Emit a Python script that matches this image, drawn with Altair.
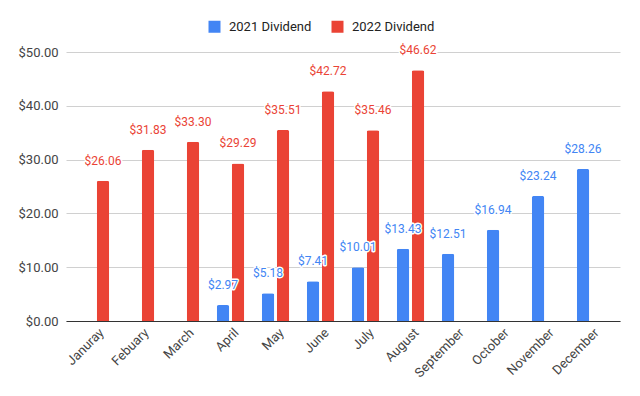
import altair as alt
import pandas as pd

months = ["Januray", "Febuary", "March", "April", "May", "June", "July",
          "August", "September", "October", "November", "December"]
series_names = ["2021 Dividend", "2022 Dividend"]
div2021 = [None, None, None, 2.97, 5.18, 7.41, 10.01, 13.43, 12.51, 16.94, 23.24, 28.26]
div2022 = [26.06, 31.83, 33.30, 29.29, 35.51, 42.72, 35.46, 46.62, None, None, None, None]
colors = ["#4285F4", "#EA4335"]
y_ticks = [0, 10, 20, 30, 40, 50]

rows = []
for m, a, b in zip(months, div2021, div2022):
    if a is not None:
        rows.append({"month": m, "series": series_names[0], "value": a})
    if b is not None:
        rows.append({"month": m, "series": series_names[1], "value": b})
df = pd.DataFrame(rows)

x_enc = alt.X("month:N", sort=months,
              scale=alt.Scale(paddingInner=0.39, paddingOuter=0.35),
              axis=alt.Axis(title=None, labelAngle=-45, labelAlign="right",
                            labelBaseline="top", labelPadding=5, labelOffset=2,
                            labelFontSize=13, labelColor="#444444",
                            domainColor="#333333", ticks=False))
xo_enc = alt.XOffset("series:N", sort=series_names,
                     scale=alt.Scale(paddingInner=0.167, paddingOuter=0))
y_enc = alt.Y("value:Q", scale=alt.Scale(domain=[0, 50]),
              axis=alt.Axis(title=None, values=y_ticks, format="$.2f",
                            domain=False, ticks=False, labelPadding=8,
                            labelFontSize=13, labelColor="#444444",
                            gridColor="#d0d0d0"))
color_enc = alt.Color("series:N",
                      scale=alt.Scale(domain=series_names, range=colors),
                      legend=alt.Legend(orient="none", legendX=142, legendY=-32,
                                        direction="horizontal", title=None,
                                        symbolType="square", symbolSize=144,
                                        symbolStrokeWidth=0, labelFontSize=13,
                                        labelOffset=8, columnPadding=19,
                                        labelColor="#222222"))

base = alt.Chart(df).encode(x=x_enc, xOffset=xo_enc, y=y_enc)

bars = base.mark_bar(cornerRadiusTopLeft=2, cornerRadiusTopRight=2).encode(color=color_enc)
halo = base.mark_text(dy=-20, fontSize=12, baseline="middle", fill="white",
                      stroke="white", strokeWidth=3, strokeJoin="round").encode(
    text=alt.Text("value:Q", format="$.2f"))
labels = base.mark_text(dy=-20, fontSize=12, baseline="middle").encode(
    text=alt.Text("value:Q", format="$.2f"), color=color_enc)

chart = alt.layer(bars, halo, labels).properties(
    width=554, height=269,
    autosize=alt.AutoSizeParams(type="none"),
    padding={"left": 58, "top": 44, "right": 12, "bottom": 67},
).configure(font="Roboto").configure_view(stroke=None)

chart.save("out.html", embed_options={"renderer": "svg", "actions": False})
